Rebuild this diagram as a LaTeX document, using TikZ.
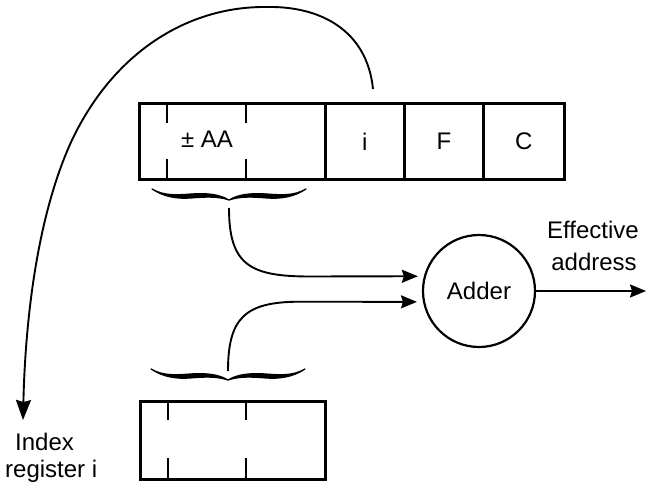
\documentclass[tikz,border=0pt]{standalone}
\usepackage{fontspec}
\setmainfont{Liberation Sans}
\usetikzlibrary{arrows.meta}

\tikzset{
  txt/.style={inner sep=0pt, font=\fontsize{24}{28}\selectfont},
  cell/.style={draw, line width=2.8pt, minimum height=76pt, inner sep=0pt,
               anchor=north west, txt},
  lowcell/.style={cell, minimum height=78pt},
  tick/.style={line width=2.8pt},
  conn/.style={line width=1.9pt, -{Stealth[length=16pt,width=13pt,inset=2pt]}},
  bigconn/.style={line width=1.9pt, -{Stealth[length=20pt,width=15pt,inset=2pt]}},
  % one half of a tapered curly brace, cusp at the origin, ends towards -y
  halfbrace/.pic={
    \filldraw[line width=1.2pt, line join=round]
      (-77,-11) .. controls (-65,-3) and (-52,-1) .. (-38,-2)
      .. controls (-25,-3) and (-12,-4) .. (0,0)
      .. controls (-10,-6) and (-22,-7) .. (-38,-6)
      .. controls (-52,-5) and (-65,-4) .. (-77,-11) -- cycle;
  },
  curlybrace/.pic={
    \pic {halfbrace};
    \pic[xscale=-1] {halfbrace};
  }
}

\begin{document}
\begin{tikzpicture}[x=1pt, y=-1pt]
\useasboundingbox (0,0) rectangle (647,486);

% instruction word
\node[cell, minimum width=186pt] (faa) at (138,102) {};
\node[cell, minimum width=79pt]  (fi)  at (324,102) {i};
\node[cell, minimum width=79pt]  (ff)  at (403,102) {F};
\node[cell, minimum width=81pt]  (fc)  at (482,102) {C};
\draw[tick] (167,102) -- ++(0,21);
\draw[tick] (167,178) -- ++(0,-19);
\draw[tick] (246,102) -- ++(0,21);
\draw[tick] (246,178) -- ++(0,-19);
\node[txt, anchor=base] (aa) at (207,148) {± AA};

% index register
\node[lowcell, minimum width=185pt] (ireg) at (139,400) {};
\draw[tick] (168,400) -- ++(0,20);
\draw[tick] (168,478) -- ++(0,-20);
\draw[tick] (246,400) -- ++(0,20);
\draw[tick] (246,478) -- ++(0,-20);

% braces marking the address parts
\pic at (229,200) {curlybrace};
\pic[yscale=-1] at (228,380) {curlybrace};

% adder
\node[draw, circle, line width=2.2pt, minimum size=112pt, txt] (adder) at (479,291) {Adder};

\coordinate (ustart) at (229,208);
\coordinate (lstart) at (228,371);
\coordinate (out) at (646,291);
\coordinate (istart) at (373,89);
\coordinate (itip) at (23,420);

\draw[conn, shorten >=6pt] (ustart) .. controls (229,265) and (250,276.5) .. (310,276.5) -- (adder.165);
\draw[conn, shorten >=6pt] (lstart) .. controls (228,318) and (245,301.7) .. (300,301.7) -- (adder.191);
\draw[conn] (adder.east) -- (out);

% index field selects the register
\draw[bigconn] (istart) .. controls (367,30) and (320,6) .. (267,7)
  .. controls (190,6) and (115,50) .. (72,140)
  .. controls (35,220) and (25,330) .. (itip);

% labels
\node[txt, anchor=base] (eff) at (593,238) {Effective};
\node[txt, anchor=base] (addr) at (594,270) {address};
\node[txt, anchor=base west] (idx1) at (15,450) {Index};
\node[txt, anchor=base west] (idx2) at (5,477) {register i};
\end{tikzpicture}
\end{document}
